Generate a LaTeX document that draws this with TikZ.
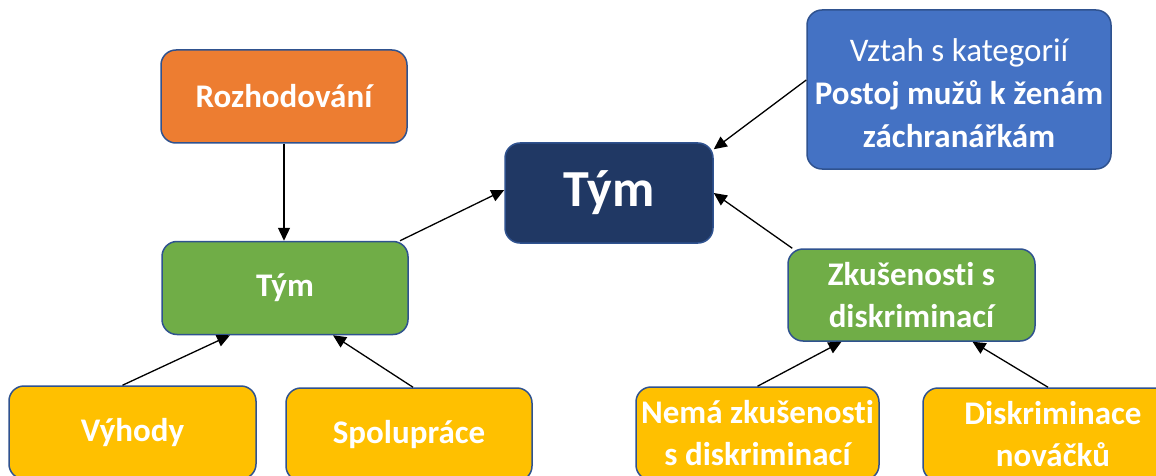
\documentclass[tikz,border=0pt]{standalone}
\usepackage{fontspec}
\setmainfont{Carlito}[Ligatures=NoCommon]
\usetikzlibrary{arrows.meta,calc}
\definecolor{cOrange}{HTML}{ED7D31}
\definecolor{cGreen}{HTML}{70AD47}
\definecolor{cDark}{HTML}{203864}
\definecolor{cBlue}{HTML}{4472C4}
\definecolor{cYellow}{HTML}{FFC000}
\definecolor{cEdge}{HTML}{2F528F}
\tikzset{
  boxbase/.style={draw=cEdge, line width=1.5pt, rounded corners=15pt, inner sep=0pt,
    text=white, align=center, font=\bfseries\fontsize{33}{42}\selectfont},
  orangebox/.style={boxbase, fill=cOrange},
  greenbox/.style={boxbase, fill=cGreen},
  yellowbox/.style={boxbase, fill=cYellow},
  darkbox/.style={boxbase, fill=cDark, font=\bfseries\fontsize{52}{60}\selectfont},
  bluebox/.style={boxbase, fill=cBlue, font=\fontsize{33}{43}\selectfont},
  arr/.style={draw=black, line width=1.3pt, -{Triangle[length=13pt,width=12pt]}},
}
\begin{document}
\begin{tikzpicture}[x=1pt,y=-1pt]
\useasboundingbox (0,0) rectangle (1156,476);
\clip (0,0) rectangle (1156,476);
\node[orangebox, minimum width=246pt, minimum height=93pt] (roz) at (284,96.5) {Rozhodování};
\node[greenbox, minimum width=246pt, minimum height=93pt] (tymL) at (285,288) {Tým};
\node[darkbox, minimum width=208pt, minimum height=100pt] (tym) at (609,193) {Tým};
\node[bluebox, minimum width=304pt, minimum height=159pt] (vztah) at (959,89.5) {};
\node[text=white, align=center, inner sep=0pt, font=\fontsize{33}{43}\selectfont] (vztahtext) at (959,93) {Vztah s kategorií\\\textbf{Postoj mužů k ženám}\\\textbf{záchranářkám}};
\node[greenbox, minimum width=247pt, minimum height=92pt] (zk) at (911.5,295) {Zkušenosti s\\diskriminací};
\node[yellowbox, minimum width=247pt, minimum height=93pt] (vyh) at (132.5,432.5) {Výhody};
\node[yellowbox, minimum width=246pt, minimum height=93pt] (spol) at (409,434.5) {Spolupráce};
\node[yellowbox, minimum width=243pt, minimum height=93pt] (nema) at (757.5,433.5) {Nemá zkušenosti\\s diskriminací};
\node[yellowbox, minimum width=260pt, minimum height=93pt] (disk) at (1053,434.5) {Diskriminace\\nováčků};
\draw[arr] (roz.south) -- (roz.south |- tymL.north);
\draw[arr] ([xshift=115pt]tymL.north) -- ([yshift=3pt]tym.west);
\draw[arr] ([yshift=9.5pt]vztah.west) -- ([yshift=-7pt]tym.north east);
\draw[arr] ([xshift=5pt]zk.north west) -- (tym.east);
\draw[arr] ([xshift=-10pt]vyh.north) -- ([xshift=-55pt]tymL.south);
\draw[arr] ([xshift=4pt]spol.north) -- ([xshift=48pt]tymL.south);
\draw[arr] (nema.north) -- ([xshift=-70pt]zk.south);
\draw[arr] ([xshift=-5pt]disk.north) -- ([xshift=61pt]zk.south);
\end{tikzpicture}
\end{document}
